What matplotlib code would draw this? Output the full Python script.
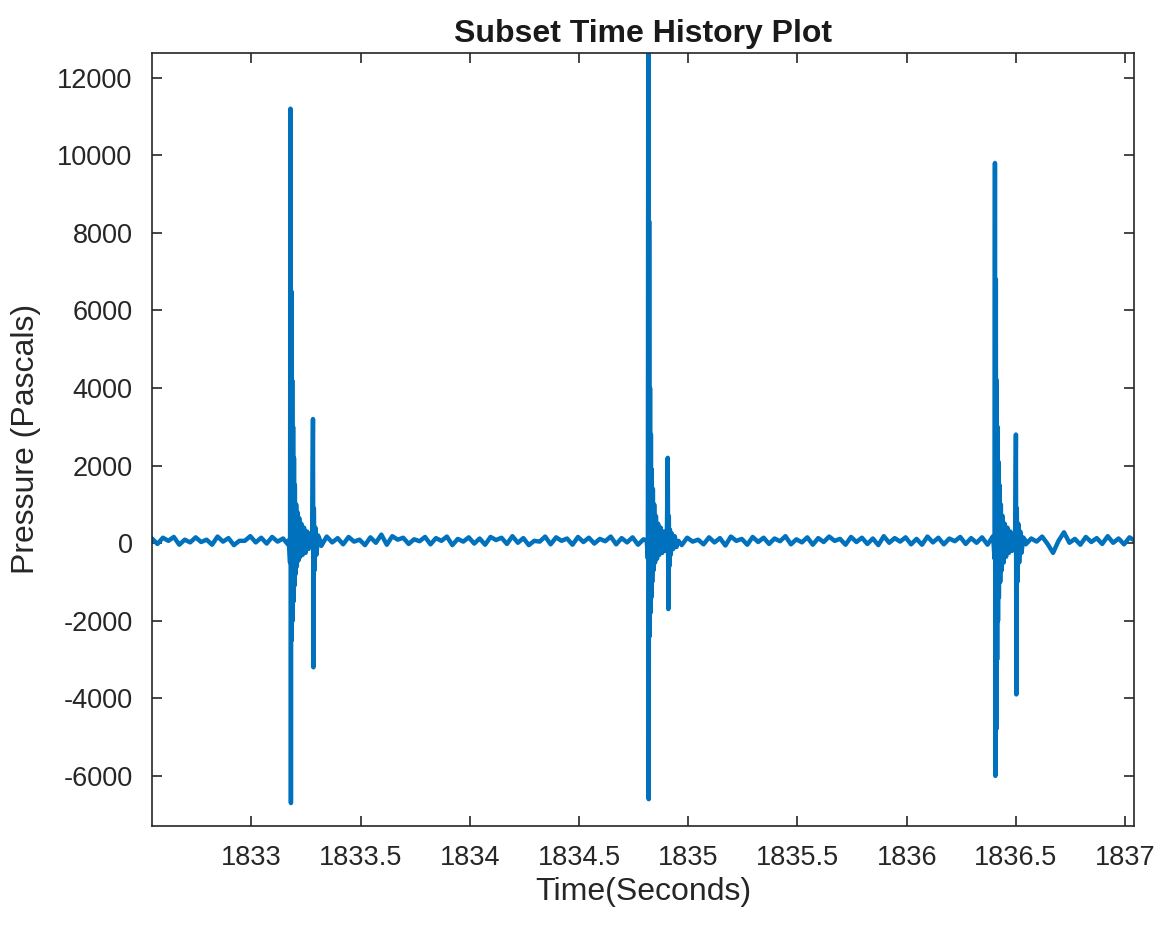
import numpy as np
import matplotlib
matplotlib.use("Agg")
import matplotlib.pyplot as plt

plt.rcParams['font.family'] = ['Liberation Sans', 'DejaVu Sans']
plt.rcParams['axes.unicode_minus'] = False

# background wiggle, sampled every 25 ms from the left edge of the view
t0_base = 1832.545
dt_base = 0.025
p_base = [
    120, -20, 140, 60, 160, -40, 90, 20, 150, 30, 90, -40, 170, 40, 130, -50, 60, 60, 180, 20,
    140, -10, 160, 40, 120, -50, 200, 60, 150, -30, 110, -70, 170, 20, 130, -30, 160, 40, 90, -50,
    150, 10, 220, -40, 180, 90, 140, -20, 100, 50, 160, -30, 130, 60, 170, -50, 110, 40, 150, -10,
    120, -40, 160, 80, 140, -20, 180, 10, 130, -50, 60, 40, 170, -30, 150, 60, 120, -40, 160, 30,
    140, -10, 110, 50, 170, -30, 130, 20, 150, -40, 100, 70, 160, -20, 180, 10, 120, -50, 140, 40,
    90, -30, 150, 20, 130, -60, 170, 60, 110, -40, 160, 30, 140, -20, 120, 50, 180, -30, 100, 20,
    150, -40, 130, 30, 170, 60, 110, -40, 160, 30, 140, -20, 120, -50, 180, 10, 130, 40, 150, -30,
    110, -40, 170, 20, 140, -30, 120, 50, 160, -20, 130, 10, 150, -40, 180, 30, -150, 300, 20, 160,
    -30, 120, 40, 170, -20, -250, 60, 280, 10, 110, -40, 160, 30, 130, -20, 180, 10, 120, -30, 150, 60,
]

# impulse events (main blast + reflection)
t_spike1 = [1833.172, 1833.177, 1833.179, 1833.181, 1833.183, 1833.185, 1833.187, 1833.189, 1833.191,
            1833.193, 1833.195, 1833.197, 1833.199, 1833.202, 1833.205, 1833.208, 1833.211, 1833.215,
            1833.219, 1833.224, 1833.229, 1833.235, 1833.241, 1833.248, 1833.255, 1833.262, 1833.270,
            1833.278, 1833.282, 1833.284, 1833.286, 1833.289, 1833.293, 1833.298, 1833.305, 1833.314]
p_spike1 = [80, -500, 11200, -6700, 6500, -2500, 4200, -2000, 3000, -1500, 2200, -1100, 1500, -800,
            1000, -600, 800, -450, 650, -350, 500, -300, 400, -250, 300, -150, 250, -100, 3200, -3200,
            900, -700, 400, -300, 200, 80]

t_spike2 = [1834.810, 1834.815, 1834.817, 1834.819, 1834.821, 1834.823, 1834.825, 1834.827, 1834.829,
            1834.831, 1834.833, 1834.835, 1834.838, 1834.841, 1834.844, 1834.848, 1834.852, 1834.857,
            1834.862, 1834.868, 1834.874, 1834.881, 1834.888, 1834.895, 1834.902, 1834.906, 1834.909,
            1834.911, 1834.913, 1834.916, 1834.920, 1834.925, 1834.931, 1834.938, 1834.946, 1834.955]
p_spike2 = [60, -400, 13500, -6600, 8300, -2400, 4000, -1800, 2800, -1400, 1900, -1000, 1400, -700,
            1000, -500, 700, -400, 500, -300, 400, -250, 300, -200, 150, 2200, -1700, 700, -600, 350,
            -300, 250, -150, 180, -100, 60]

t_spike3 = [1836.397, 1836.402, 1836.404, 1836.406, 1836.408, 1836.410, 1836.412, 1836.414, 1836.416,
            1836.418, 1836.420, 1836.422, 1836.425, 1836.428, 1836.431, 1836.435, 1836.439, 1836.444,
            1836.449, 1836.455, 1836.461, 1836.468, 1836.475, 1836.482, 1836.490, 1836.497, 1836.500,
            1836.502, 1836.504, 1836.507, 1836.511, 1836.515, 1836.520, 1836.526, 1836.533, 1836.542]
p_spike3 = [70, -400, 9800, -6000, 6800, -4800, 4200, -3000, 3000, -2000, 2100, -1400, 1500, -1000,
            1000, -700, 700, -500, 500, -350, 400, -250, 300, -200, 200, 150, 2800, -3900, 900, -1000,
            500, -500, 300, -250, 150, 80]

xticks = [1833, 1833.5, 1834, 1834.5, 1835, 1835.5, 1836, 1836.5, 1837]
xtick_labels = ['1833', '1833.5', '1834', '1834.5', '1835', '1835.5', '1836', '1836.5', '1837']
yticks = [-6000, -4000, -2000, 0, 2000, 4000, 6000, 8000, 10000, 12000]

# merge everything into one trace
t_base = t0_base + dt_base * np.arange(len(p_base))
p_base = np.array(p_base, dtype=float)
keep = np.ones(len(t_base), dtype=bool)
for ts in (t_spike1, t_spike2, t_spike3):
    keep &= ~((t_base >= ts[0]) & (t_base <= ts[-1]))

t_all = np.concatenate([t_base[keep], t_spike1, t_spike2, t_spike3])
p_all = np.concatenate([p_base[keep], p_spike1, p_spike2, p_spike3])
order = np.argsort(t_all)
t_all = t_all[order]
p_all = p_all[order]

fig = plt.figure(figsize=(11.62, 9.27), dpi=100)
ax = fig.add_axes([0.1308, 0.109, 0.845, 0.834])

ax.plot(t_all, p_all, color='#0072BD', lw=3.2)

ax.set_xlim(1832.545, 1837.04)
ax.set_ylim(-7290, 12640)
ax.set_xticks(xticks)
ax.set_xticklabels(xtick_labels)
ax.set_yticks(yticks)

ax.tick_params(direction='in', length=7, width=1.2, top=True, right=True,
               labelsize=19.5, colors='#262626', pad=14)
for side in ax.spines.values():
    side.set_linewidth(1.2)
    side.set_color('#262626')

ax.set_xlabel('Time(Seconds)', fontsize=23, color='#262626', labelpad=4)
ax.set_ylabel('Pressure (Pascals)', fontsize=23, color='#262626', labelpad=12)
ax.set_title('Subset Time History Plot', fontsize=23, fontweight='bold', color='#1a1a1a', pad=8)

fig.savefig('out.png', dpi=100)
